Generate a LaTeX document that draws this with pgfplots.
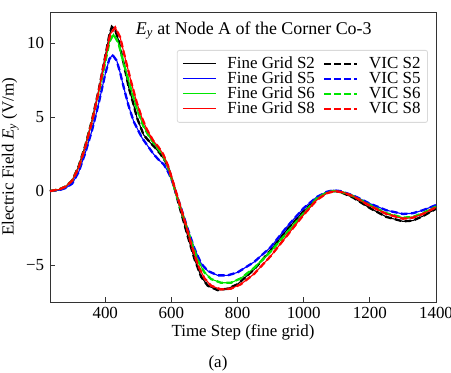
\documentclass[border=0pt]{standalone}
\usepackage{fontspec}
\setmainfont{Liberation Serif}
\usepackage{pgfplots}
\pgfplotsset{compat=1.18}
\usepackage{pgfplotstable}

\pgfplotstableread{
t v
233 0
260 0.1
280 0.3
300 0.7
320 1.7
340 3.1
360 4.8
380 6.8
400 9.1
412 10.5
420 11.1
430 10.9
440 10.2
455 8.7
471 7.0
485 5.9
496 4.95
516 3.8
535 3.3
552 2.9
567 2.5
582 2.0
595 1.3
607 0.4
620 -0.7
635 -1.9
650 -3.1
670 -4.6
690 -5.8
710 -6.4
740 -6.7
770 -6.6
800 -6.3
850 -5.3
900 -4.0
950 -2.6
1000 -1.35
1040 -0.5
1070 -0.1
1090 0.0
1110 -0.05
1150 -0.45
1200 -1.15
1250 -1.75
1300 -2.05
1330 -2.0
1360 -1.7
1400 -1.2
}\sTwo

\pgfplotstableread{
t v
233 0
260 0.05
280 0.2
300 0.5
320 1.3
340 2.6
360 4.1
380 5.9
400 7.9
412 8.9
422 9.2
435 8.8
445 8.0
456 7.0
470 5.8
486 4.7
511 3.6
530 3.0
546 2.5
562 2.1
577 1.8
590 1.3
602 0.7
615 -0.2
630 -1.2
650 -2.6
670 -3.9
690 -4.9
710 -5.4
740 -5.7
770 -5.7
800 -5.5
850 -4.8
900 -3.8
950 -2.4
1000 -1.15
1040 -0.4
1070 -0.05
1090 0.05
1110 0.0
1150 -0.3
1200 -0.85
1250 -1.3
1300 -1.55
1330 -1.5
1360 -1.3
1400 -0.95
}\sFive

\pgfplotstableread{
t v
233 0
260 0.1
280 0.3
300 0.7
320 1.6
340 3.0
360 4.7
380 6.6
400 8.7
413 10.1
425 10.6
440 10.0
455 8.7
475 7.1
495 5.6
515 4.4
535 3.6
555 3.0
575 2.4
590 1.6
605 0.5
620 -0.6
640 -2.0
660 -3.4
680 -4.7
700 -5.5
720 -5.95
750 -6.2
780 -6.2
810 -5.9
850 -5.2
900 -4.1
950 -2.8
1000 -1.5
1040 -0.5
1070 -0.1
1092 0.0
1120 -0.1
1150 -0.35
1200 -0.95
1250 -1.5
1300 -1.8
1330 -1.75
1360 -1.5
1400 -1.05
}\sSix

\pgfplotstableread{
t v
233 0
260 0.1
280 0.3
300 0.7
320 1.6
340 3.0
360 4.7
380 6.7
400 9.0
415 10.6
430 11.05
445 10.4
460 9.0
478 7.4
495 6.0
510 5.0
525 4.2
545 3.4
560 3.0
575 2.5
590 1.7
605 0.6
620 -0.5
640 -2.0
660 -3.6
680 -5.0
700 -5.9
720 -6.4
750 -6.65
780 -6.6
810 -6.3
850 -5.6
900 -4.4
950 -3.0
1000 -1.6
1040 -0.6
1070 -0.15
1095 0.0
1120 -0.1
1150 -0.35
1200 -1.0
1250 -1.55
1300 -1.87
1330 -1.8
1360 -1.55
1400 -1.1
}\sEight

\definecolor{mygreen}{RGB}{0,230,0}

\begin{document}
\fontsize{17}{19}\selectfont
\begin{tikzpicture}
\begin{axis}[
  name=ax,
  scale only axis,
  width=386bp, height=290bp,
  xmin=233, xmax=1400,
  ymin=-7.5, ymax=12.1,
  xtick={400,600,800,1000,1200,1400},
  ytick={-5,0,5,10},
  yticklabels={−5,0,5,10},
  tick align=inside,
  xtick pos=bottom, ytick pos=left,
  major tick length=5bp,
  minor tick num=0,
  axis line style={line width=0.9bp, black!80},
  tick style={line width=0.8bp, black!80},
  /pgf/number format/assume math mode=true,
  /pgf/number format/1000 sep={},
  ticklabel style={font=\fontsize{17}{19}\selectfont},
  xticklabel style={yshift=1bp},
  xlabel={Time Step (fine grid)},
  ylabel={Electric Field \textit{E}\textsubscript{\textit{y}} (V/m)},
  label style={font=\fontsize{17}{19}\selectfont},
  xlabel style={yshift=5bp},
  ylabel style={yshift=-4bp},
  legend columns=2,
  legend cell align=left,
  legend style={at={(0.979,0.869)}, anchor=north east, rounded corners=2bp,
    draw=black!15, line width=0.8bp, fill=white,
    font=\fontsize{17}{15}\selectfont, row sep=1bp,
    inner xsep=5bp, inner ysep=6.5bp,
    nodes={inner ysep=0.5bp, text height=11.5bp, text depth=1.5bp},
    /tikz/every odd column/.append style={column sep=9bp},
    /tikz/every even column/.append style={column sep=6bp}},
  legend image post style={xscale=1.94},
  dashv/.style={dash pattern=on 6.5bp off 3.5bp, line width=2.3bp},
  solidv/.style={line width=1.1bp},
]
\addplot[solidv, black, no marks] table[x=t,y=v] {\sTwo};
\addlegendentry{Fine Grid S2}
\addplot[dashv, black, no marks] table[x=t,y=v] {\sTwo};
\addlegendentry{VIC S2}
\addplot[solidv, blue, no marks] table[x=t,y=v] {\sFive};
\addlegendentry{Fine Grid S5}
\addplot[dashv, blue, no marks] table[x=t,y=v] {\sFive};
\addlegendentry{VIC S5}
\addplot[solidv, mygreen, no marks] table[x=t,y=v] {\sSix};
\addlegendentry{Fine Grid S6}
\addplot[dashv, mygreen, no marks] table[x=t,y=v] {\sSix};
\addlegendentry{VIC S6}
\addplot[solidv, red, no marks] table[x=t,y=v] {\sEight};
\addlegendentry{Fine Grid S8}
\addplot[dashv, red, no marks] table[x=t,y=v] {\sEight};
\addlegendentry{VIC S8}
\node[anchor=center, font=\fontsize{18}{20}\selectfont] at (rel axis cs:0.528,0.936) {\textit{E}\textsubscript{\textit{y}} at Node A of the Corner Co-3};
\end{axis}
\node[font=\fontsize{17}{19}\selectfont] at ([xshift=168bp,yshift=-61bp]ax.south west) {(a)};
\pgfresetboundingbox
\path ([xshift=-50bp,yshift=-71bp]ax.south west) rectangle ([xshift=15bp,yshift=12bp]ax.north east);
\end{tikzpicture}
\end{document}
